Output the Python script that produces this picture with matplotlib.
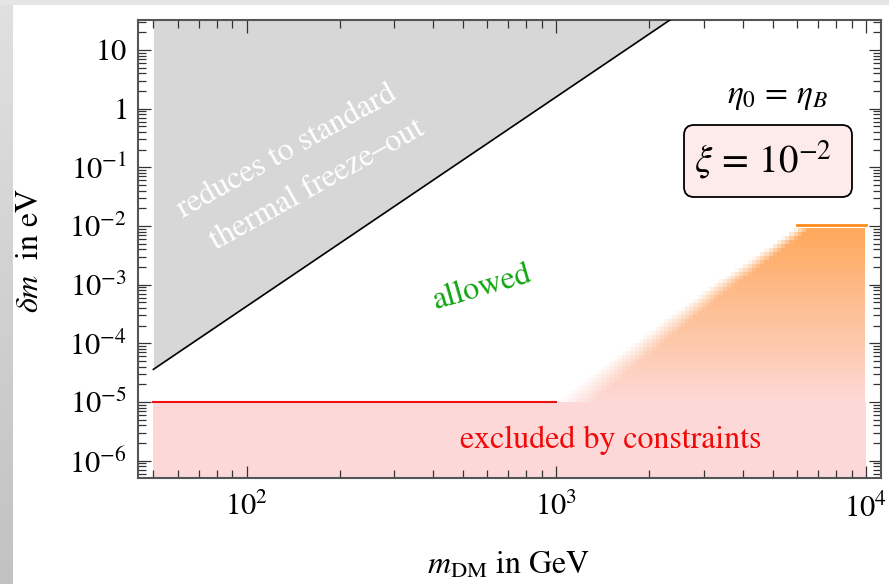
import numpy as np
import matplotlib
matplotlib.use("Agg")
import matplotlib.pyplot as plt
from matplotlib.patches import Rectangle, FancyBboxPatch
from matplotlib.ticker import LogLocator, FixedLocator, FuncFormatter, NullFormatter

plt.rcParams['mathtext.fontset'] = 'stix'
plt.rcParams['font.family'] = 'STIXGeneral'

# --- data ---
# thermal freeze-out line (upper left, gray region above it)
m_ff = [50, 2400]
dm_ff = [3.6e-5, 36.0]

# constraints: excluded below this value
m_con = [50, 1e4]
dm_con = 1e-5
m_con_line = [50, 1000]

# orange region: left edge (half-fade point) and top
m_edge = [1150, 1980, 3500, 6300]
dm_edge = [1e-5, 1e-4, 1e-3, 9.2e-3]
m_orange_max = 1e4
m_orange_line = [6000, 1e4]
dm_orange_line = 1.05e-2

x_major = [1e2, 1e3, 1e4]
y_major = [1e-6, 1e-5, 1e-4, 1e-3, 1e-2, 1e-1, 1, 10]

xlim = (44.6, 11200)
ylim = (5.07e-7, 32.4)

# --- figure and page background ---
fig = plt.figure(figsize=(8.89, 5.84), dpi=100, facecolor='#e5e5e5')
fig.patches.append(Rectangle((13/889, 0), 1, 1 - 5/584, transform=fig.transFigure,
                             facecolor='white', edgecolor='none', zorder=-10))
strip = fig.add_axes([0, 0, 13/889, 1 - 5/584])
grad = np.linspace(0, 1, 100)[:, None]
strip.imshow(grad, aspect='auto', cmap=matplotlib.colors.LinearSegmentedColormap.from_list(
    'g', ['#e0e0e0', '#c2c2c2']), extent=[0, 1, 0, 1])
strip.axis('off')

ax = fig.add_axes([138/889, 1 - 478/584, 743/889, 458/584])
ax.set_xscale('log')
ax.set_yscale('log')
ax.set_xlim(*xlim)
ax.set_ylim(*ylim)

# gray region: reduces to standard freeze-out
ax.fill_between(m_ff, dm_ff, 1e3, color='#d7d7d7', lw=0, zorder=1)
ax.plot(m_ff, dm_ff, color='black', lw=1.2, zorder=3)

# pink excluded region
ax.fill_between(m_con, 1e-9, dm_con, color='#fdd8d9', lw=0, zorder=1)
ax.plot(m_con_line, [dm_con, dm_con], color='#ee1111', lw=1.5, zorder=3)

# orange region, coarse density-plot look with soft left edge
lx_edges = np.arange(np.log10(800), np.log10(m_orange_max) + 1e-9, 0.0135)
ly_top = np.log10(dm_edge[-1])
ly_edges = np.linspace(np.log10(dm_con), ly_top, 45)
lxc = 0.5 * (lx_edges[1:] + lx_edges[:-1])
lyc = 0.5 * (ly_edges[1:] + ly_edges[:-1])
LX, LY = np.meshgrid(lxc, lyc)
edge = np.interp(LY, np.log10(dm_edge), np.log10(m_edge))
width = np.interp(LY, [np.log10(dm_con), ly_top], [0.12, 0.05])
alpha = np.clip((LX - edge + width / 2) / width, 0, 1)
frac = (LY - np.log10(dm_con)) / (ly_top - np.log10(dm_con))
c_bot = np.array(matplotlib.colors.to_rgb('#fdd9d6'))
c_top = np.array(matplotlib.colors.to_rgb('#fea85a'))
rgba = np.zeros(LX.shape + (4,))
rgba[..., :3] = c_bot + (c_top - c_bot) * frac[..., None]
rgba[..., 3] = alpha
ax.pcolormesh(10 ** lx_edges, 10 ** ly_edges, rgba, antialiased=False,
              edgecolors='none', zorder=2)
ax.plot(m_orange_line, [dm_orange_line] * 2, color='#ff8c1a', lw=2, zorder=3)

# axes styling
for s in ax.spines.values():
    s.set_color('#555555')
    s.set_linewidth(1.5)
ax.xaxis.set_major_locator(FixedLocator(x_major))
ax.xaxis.set_minor_locator(LogLocator(base=10, subs=np.arange(2, 10), numticks=10))
ax.yaxis.set_major_locator(FixedLocator(y_major))
ax.yaxis.set_minor_locator(LogLocator(base=10, subs=np.arange(2, 10), numticks=20))
ax.xaxis.set_minor_formatter(NullFormatter())
ax.yaxis.set_minor_formatter(NullFormatter())


def fmt(v, pos):
    n = int(round(np.log10(v)))
    if n == 0:
        return '$1$'
    if n == 1:
        return '$10$'
    return '$10^{%d}$' % n


ax.xaxis.set_major_formatter(FuncFormatter(fmt))
ax.yaxis.set_major_formatter(FuncFormatter(fmt))
ax.tick_params(which='both', direction='in', top=True, right=True,
               color='#333333', width=0.9, labelsize=22)
ax.tick_params(which='major', length=9)
ax.tick_params(which='minor', length=6)
ax.tick_params(axis='x', pad=11)
ax.tick_params(axis='y', pad=8)

# labels
fig.text(30/889, 1 - 250/584, r'$\delta m$  in eV', rotation=90, fontsize=23,
         ha='center', va='center')
fig.text(509/889, 1 - 566/584, r'$m_{\rm DM}$ in GeV', fontsize=23,
         ha='center', va='center')

# annotations
ax.text(0.2005, 0.712, 'reduces to standard', transform=ax.transAxes, rotation=29,
        color='white', fontsize=23, ha='center', va='center', zorder=4)
ax.text(0.241, 0.640, 'thermal freeze\u2013out', transform=ax.transAxes, rotation=29,
        color='white', fontsize=23, ha='center', va='center', zorder=4)
ax.text(0.463, 0.415, 'allowed', transform=ax.transAxes, rotation=16,
        color='#12a612', fontsize=23, ha='center', va='center', zorder=4)
ax.text(0.6366, 0.083, 'excluded by constraints', transform=ax.transAxes,
        color='#f00a0a', fontsize=23, ha='center', va='center', zorder=4)
ax.text(0.8614, 0.832, r'$\eta_0\,=\,\eta_B$', transform=ax.transAxes,
        fontsize=24, ha='center', va='center', zorder=4)

bx0, bx1 = (684 - 138) / 743, (852 - 138) / 743
by0, by1 = (478 - 197) / 458, (478 - 125) / 458
box = FancyBboxPatch((bx0, by0), bx1 - bx0, by1 - by0,
                     boxstyle='round,pad=0,rounding_size=0.0135',
                     mutation_aspect=743/458, transform=ax.transAxes,
                     facecolor='#fdeaea', edgecolor='black', lw=1.3, zorder=4)
ax.add_patch(box)
ax.text(0.841, 0.694, r'$\xi\,=\,10^{-2}$', transform=ax.transAxes,
        fontsize=28, ha='center', va='center', zorder=5)

fig.savefig('out.png', dpi=100, facecolor=fig.get_facecolor())
